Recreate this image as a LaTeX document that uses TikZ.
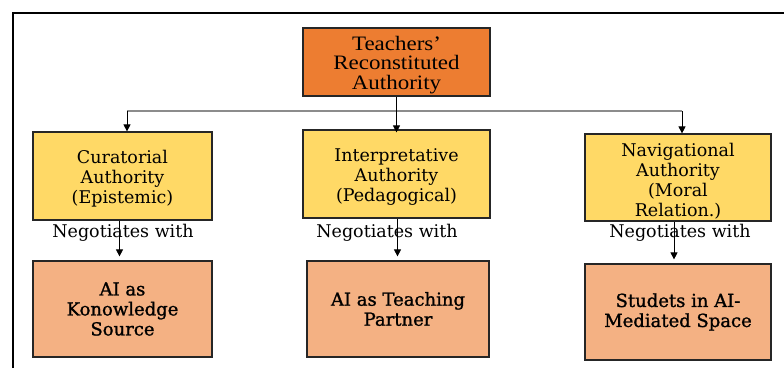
\documentclass[tikz,border=0pt]{standalone}
\usepackage{fontspec}
\setmainfont{DejaVu Serif}
\newfontfamily\headfont[FakeStretch=1.12]{Liberation Serif}
\newfontfamily\partnerfont[FakeBold=1.2]{DejaVu Serif}
\usetikzlibrary{arrows.meta}
\definecolor{rootorange}{HTML}{ED7D31}
\definecolor{authyellow}{HTML}{FFD966}
\definecolor{partnersalmon}{HTML}{F4B183}
\definecolor{linkgray}{HTML}{8C8C8C}
% stacked lines, centred, with a little extra room on top
\newcommand{\stackedlines}[3][180pt]{\parbox{#1}{\centering\vspace*{#2}#3}}
\begin{document}
\begin{tikzpicture}[x=1pt,y=-1pt,
  box/.style={draw=black!85, line width=1.2pt, align=center, inner sep=0pt},
  rootbox/.style={box, fill=rootorange, font=\headfont\fontsize{20.5}{19.5}\selectfont},
  authbox/.style={box, fill=authyellow, font=\fontsize{17.5}{20}\selectfont},
  partnerbox/.style={box, fill=partnersalmon, font=\partnerfont\fontsize{18}{20}\selectfont},
  tip/.style={-{Triangle[width=7pt,length=7pt]}, line width=0.8pt},
  neglabel/.style={font=\fontsize{17.5}{20}\selectfont, inner sep=0pt}
]
\useasboundingbox (0,0) rectangle (784,368);
% page frame
\draw[line width=2.2pt] (13,368) -- (13,13) -- (784,13);

% root
\node[rootbox, minimum width=187pt, minimum height=68pt] (root) at (396.5,62)
  {\stackedlines{6pt}{Teachers’\\Reconstituted\\Authority}};

% authority row
\node[authbox, minimum width=179pt, minimum height=88pt] (cur) at (122.5,176)
  {\stackedlines[175pt]{6pt}{Curatorial\\Authority\\(Epistemic)}};
\node[authbox, minimum width=187pt, minimum height=88pt] (int) at (396.5,174)
  {\stackedlines{6pt}{Interpretative\\Authority\\(Pedagogical)}};
\node[authbox, minimum width=186pt, minimum height=87pt] (nav) at (678,177.5)
  {\stackedlines{8pt}{Navigational\\Authority\\(Moral\\Relation.)}};

% partner row
\node[partnerbox, minimum width=179pt, minimum height=96pt] (src) at (122.5,309)
  {AI as\\Konowledge\\Source};
\node[partnerbox, minimum width=182pt, minimum height=96pt] (tch) at (398,309)
  {AI as Teaching\\Partner};
\node[partnerbox, minimum width=186pt, minimum height=96pt] (stu) at (678,312)
  {Studets in AI-\\Mediated Space};

% branching from the root
\coordinate (busL) at (127,111);
\coordinate (busR) at (682,111);
\draw[linkgray, line width=1.6pt] (busL) -- (busR);
\draw[tip] (root.south) -- ([yshift=-3pt]int.north);
\draw[tip] (busL) -- (busL |- cur.north);
\draw[tip] (busR) -- (busR |- nav.north);

% negotiation links
\node[neglabel] (nl1) at (123,233) {Negotiates with};
\node[neglabel] (nl2) at (387,233) {Negotiates with};
\node[neglabel] (nl3) at (680,233) {Negotiates with};
\draw[tip, shorten >=4pt] ([xshift=-3pt]cur.south) -- ([xshift=-3pt]cur.south |- src.north);
\draw[tip, shorten >=4pt] ([xshift=1pt]int.south) -- ([xshift=1pt]int.south |- tch.north);
\draw[tip, shorten >=4pt] ([xshift=-4pt]nav.south) -- ([xshift=-4pt]nav.south |- stu.north);
\end{tikzpicture}
\end{document}
